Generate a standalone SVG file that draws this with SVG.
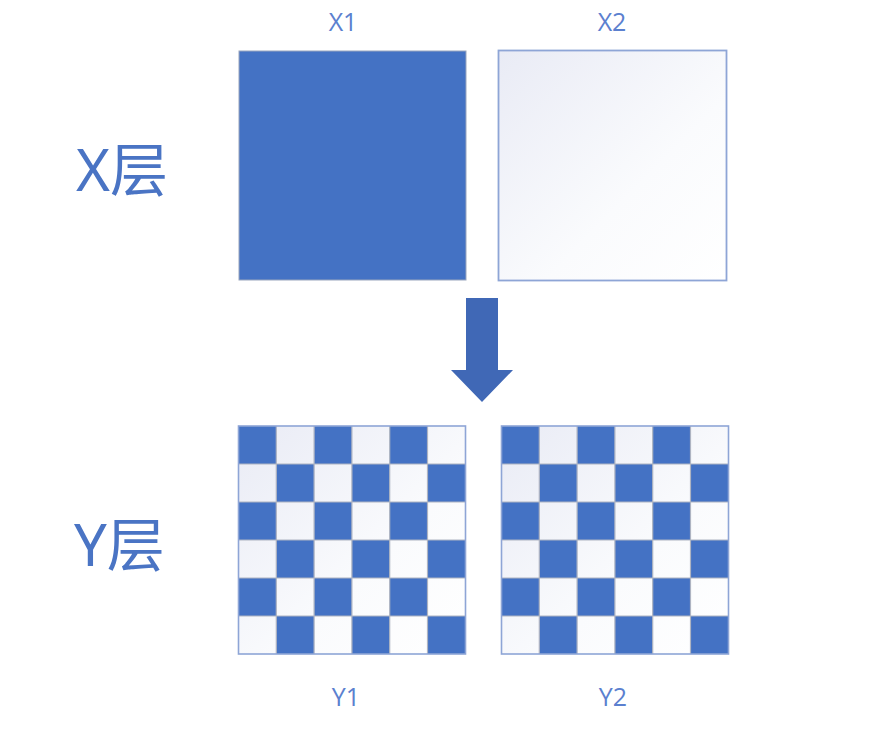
<svg xmlns="http://www.w3.org/2000/svg" width="878" height="732" viewBox="0 0 878 732">
<defs>
<linearGradient id="lg" x1="0" y1="0" x2="1" y2="1">
<stop offset="0" stop-color="#e9ebf5"/>
<stop offset="0.6" stop-color="#fafbfd"/>
<stop offset="1" stop-color="#ffffff"/>
</linearGradient>
<pattern id="chk" x="0" y="0" width="75.6" height="76" patternUnits="userSpaceOnUse">
<rect x="0" y="0" width="37.8" height="38" fill="#4472c4"/>
<rect x="37.8" y="38" width="37.8" height="38" fill="#4472c4"/>
</pattern>
</defs>
<style>
.lbl{font-family:"Open Sans","Liberation Sans",sans-serif;font-size:25px;fill:#5b80cf;text-anchor:middle}
.big{font-family:"Noto Sans","Noto Sans CJK SC",sans-serif;font-size:58px;fill:#4a74c4}
.grid{stroke:#aeb4c2;stroke-width:1.2;fill:none}
.frame{stroke:#8ea5d6;stroke-width:1.6;fill:none}
</style>
<rect width="878" height="732" fill="#ffffff"/>
<g id="label-x-layer"><text class="big" x="76" y="191">X层</text></g>
<g id="label-y-layer"><text class="big" x="74" y="566">Y层</text></g>
<g id="X1">
<rect x="239" y="51" width="227" height="229" fill="#4472c4" stroke="#9aa6bd" stroke-width="1"/>
<text class="lbl" x="343" y="31">X1</text>
</g>
<g id="X2">
<rect x="498.5" y="50.5" width="228" height="230" fill="url(#lg)" stroke="#8ea5d6" stroke-width="1.8"/>
<text class="lbl" x="612" y="31">X2</text>
</g>
<g id="Y1">
<g transform="translate(238.5,426)">
<rect x="0" y="0" width="227" height="228" fill="url(#lg)"/>
<rect x="0" y="0" width="226.8" height="228" fill="url(#chk)"/>
<path class="grid" d="M37.8 0V228M75.6 0V228M113.4 0V228M151.2 0V228M189 0V228M0 38H227M0 76H227M0 114H227M0 152H227M0 190H227"/>
<rect class="frame" x="0" y="0" width="227" height="228"/>
</g>
<text class="lbl" x="346" y="706">Y1</text>
</g>
<g id="Y2">
<g transform="translate(501.5,426)">
<rect x="0" y="0" width="227" height="228" fill="url(#lg)"/>
<rect x="0" y="0" width="226.8" height="228" fill="url(#chk)"/>
<path class="grid" d="M37.8 0V228M75.6 0V228M113.4 0V228M151.2 0V228M189 0V228M0 38H227M0 76H227M0 114H227M0 152H227M0 190H227"/>
<rect class="frame" x="0" y="0" width="227" height="228"/>
</g>
<text class="lbl" x="613" y="706">Y2</text>
</g>
<g id="connectors">
<path d="M466 298H498V370H513L482 402L451 370H466Z" fill="#4068b6"/>
</g>
</svg>
